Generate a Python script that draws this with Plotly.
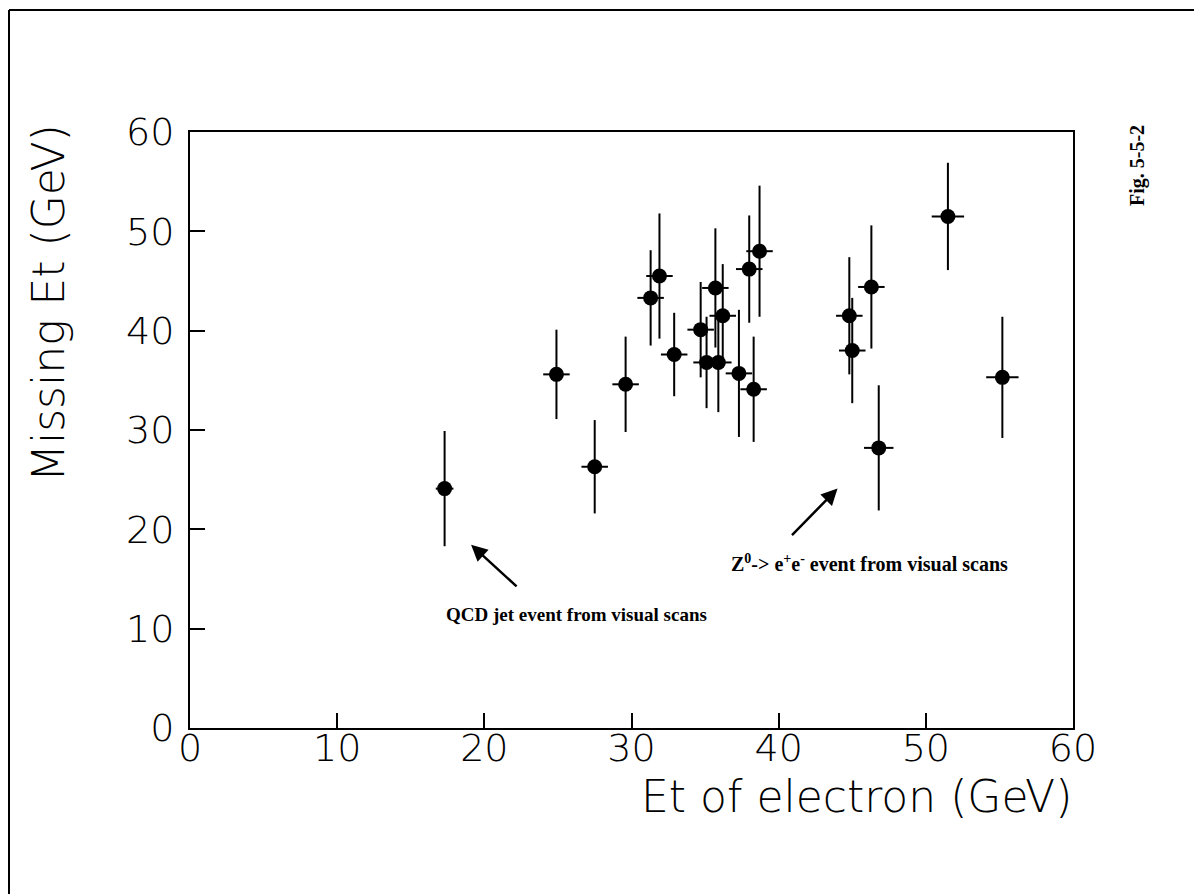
import plotly.graph_objs as go

# electron Et vs missing Et
et = [17.3, 24.9, 27.5, 29.6, 31.3, 31.9, 32.9, 34.7, 35.1, 35.9, 35.7,
      36.2, 37.3, 38.3, 38.0, 38.7, 44.8, 45.0, 46.3, 46.8, 55.2, 51.5]
missing_et = [24.1, 35.6, 26.3, 34.6, 43.3, 45.5, 37.6, 40.1, 36.8, 36.8, 44.3,
              41.5, 35.7, 34.1, 46.2, 48.0, 41.5, 38.0, 44.4, 28.2, 35.3, 51.5]
et_err = [0.6, 0.9, 0.9, 0.9, 0.9, 0.9, 0.9, 0.9, 0.9, 0.9, 0.9,
          0.9, 0.9, 0.9, 0.9, 0.9, 0.9, 0.9, 0.9, 1.0, 1.1, 1.1]
met_err = [5.8, 4.5, 4.7, 4.8, 4.8, 6.3, 4.2, 4.8, 4.6, 5.0, 6.0,
           5.2, 6.4, 5.3, 5.4, 6.6, 5.9, 5.3, 6.2, 6.3, 6.1, 5.4]

tick_vals = [0, 10, 20, 30, 40, 50, 60]

# page has an 8px body margin, so the figure is a bit smaller than the window
OFF = 8
W, H = 1202 - OFF, 894 - OFF
L, R, T, B = 190, 1073, 132, 728  # plot frame, in window pixels


def px(x):
    return (x - L) / (R - L)


def py(y):
    return (B - y) / (B - T)


fig = go.Figure()
fig.add_trace(go.Scatter(
    x=et, y=missing_et, mode='markers',
    marker=dict(color='black', size=15),
    error_x=dict(type='data', array=et_err, width=0, thickness=2, color='black'),
    error_y=dict(type='data', array=met_err, width=0, thickness=2, color='black'),
    showlegend=False))

tickfont = dict(family='DejaVu Sans', size=38, color='black', weight=200)
fig.update_layout(
    width=W, height=H,
    margin=dict(l=L - OFF, r=W - (R - OFF), t=T - OFF, b=H - (B - OFF)),
    paper_bgcolor='white', plot_bgcolor='white',
    xaxis=dict(range=[0, 60], tickvals=tick_vals, ticks='inside', ticklen=15,
               tickwidth=2, tickcolor='black', showline=True, linewidth=2,
               linecolor='black', mirror=True, showgrid=False, zeroline=False,
               tickfont=tickfont, ticklabelstandoff=-15),
    yaxis=dict(range=[0, 60], tickvals=tick_vals, ticks='inside', ticklen=15,
               tickwidth=2, tickcolor='black', showline=True, linewidth=2,
               linecolor='black', mirror=True, showgrid=False, zeroline=False,
               tickfont=tickfont, ticklabelstandoff=6),
)

titlefont = dict(family='DejaVu Sans', size=44, color='black', weight=200)
fig.add_annotation(text='Missing Et (GeV)', xref='paper', yref='paper',
                   x=px(48), y=py(303), textangle=-90, showarrow=False,
                   xanchor='center', yanchor='middle', font=titlefont)
fig.add_annotation(text='Et of electron (GeV)', xref='paper', yref='paper',
                   x=px(1074), y=py(796), showarrow=False,
                   xanchor='right', yanchor='middle', font=titlefont)

notefont = dict(family='Liberation Serif', size=19, color='black', weight='bold')
fig.add_annotation(text='QCD jet event from visual scans', xref='paper', yref='paper',
                   x=px(576), y=py(614), showarrow=False, font=notefont,
                   xanchor='center', yanchor='middle')
fig.add_annotation(x=19.1, y=18.45, ax=47, ay=43, showarrow=True, text='',
                   arrowhead=2, arrowsize=1.3, arrowwidth=2.5, arrowcolor='black')
fig.add_annotation(text='Z<sup>0</sup>-> e<sup>+</sup>e<sup>-</sup> event from visual scans',
                   xref='paper', yref='paper', x=px(729), y=py(563), showarrow=False,
                   xanchor='left', yanchor='middle',
                   font=dict(family='Liberation Serif', size=20, color='black', weight='bold'))
fig.add_annotation(x=44.0, y=24.1, ax=-47, ay=48, showarrow=True, text='',
                   arrowhead=2, arrowsize=1.3, arrowwidth=2.5, arrowcolor='black')
fig.add_annotation(text='Fig. 5-5-2', xref='paper', yref='paper',
                   x=px(1137), y=py(166), textangle=-90, showarrow=False,
                   xanchor='center', yanchor='middle',
                   font=dict(family='Liberation Serif', size=20, color='black', weight='bold'))

# page border of the scan
fig.add_shape(type='line', xref='paper', yref='paper',
              x0=px(9), x1=px(1202), y0=py(10), y1=py(10),
              line=dict(color='black', width=2))
fig.add_shape(type='line', xref='paper', yref='paper',
              x0=px(9), x1=px(9), y0=py(10), y1=py(894),
              line=dict(color='black', width=2))

fig.write_html("out.html")
